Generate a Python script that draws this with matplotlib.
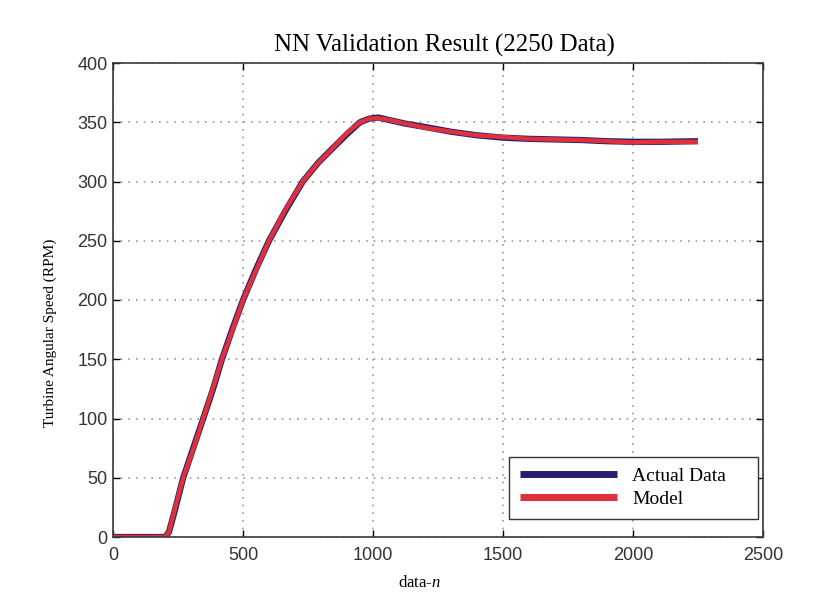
import numpy as np
import matplotlib
matplotlib.use('Agg')
from matplotlib import pyplot as plt

# values
n_points = [0, 100, 200, 215, 235, 270, 310, 347, 385, 419, 460, 500, 550, 600, 665, 730,
            790, 840, 900, 950, 985, 1020, 1060, 1120, 1200, 1300, 1400, 1500, 1600, 1700,
            1800, 1900, 2000, 2100, 2250]
actual_rpm = [0, 0, 0, 4, 20, 50, 76, 100, 125, 150, 176, 200, 226, 250, 276, 300,
              316, 327, 340, 350, 353, 354, 352, 349, 346, 342, 339, 337, 336, 335.5,
              335, 334, 333.5, 333.5, 334]
model_rpm = [0, 0, 0, 4, 21, 50, 75, 100, 126, 150, 175, 200, 225, 250, 277, 300,
             316, 327, 341, 350, 353, 353.5, 352, 349, 345.5, 342, 339, 337.5, 336, 335.5,
             335, 334, 333, 333.5, 333.5]

plt.rcParams['mathtext.fontset'] = 'custom'
plt.rcParams['mathtext.rm'] = 'Liberation Serif'
plt.rcParams['mathtext.it'] = 'Liberation Serif:italic'

fig = plt.figure(figsize=(8.14, 6.14), dpi=100)
ax = fig.add_axes([113 / 814, 1 - 537 / 614, 650 / 814, 474 / 614])

ax.plot(n_points, actual_rpm, color='#25206e', lw=4.5, label='Actual Data', solid_capstyle='butt')
ax.plot(n_points, model_rpm, color='#e0303c', lw=3.2, label='Model', solid_capstyle='butt')

ax.set_xlim(0, 2500)
ax.set_ylim(0, 400)
ax.set_xticks(np.arange(0, 2501, 500))
ax.set_yticks(np.arange(0, 401, 50))
ax.grid(True, color='#999999', linestyle=(0, (1, 3.6)), linewidth=1.2)
ax.tick_params(direction='in', top=True, right=True, length=5, width=1,
               labelsize=13, labelcolor='#333333')
ax.tick_params(axis='x', pad=7)
ax.tick_params(axis='y', pad=4)
for lab in ax.get_xticklabels() + ax.get_yticklabels():
    lab.set_family('Liberation Sans')
for sp in ax.spines.values():
    sp.set_color('#3a3a3a')
    sp.set_linewidth(1.2)

ax.set_title('NN Validation Result (2250 Data)', family='Liberation Serif', fontsize=18, pad=8,
             x=0.51)
ax.set_ylabel('Turbine Angular Speed (RPM)', family='Liberation Serif', fontsize=11)
ax.yaxis.set_label_coords(-0.086, 0.43)
ax.set_xlabel(r'data-$\mathit{n}$', family='Liberation Serif', fontsize=12)
ax.xaxis.set_label_coords(0.472, -0.08)

leg = ax.legend(loc='lower left', bbox_to_anchor=(0.609, 0.038, 0.383, 0.139), mode='expand',
                prop={'family': 'Liberation Serif', 'size': 14},
                handlelength=5.0, borderpad=0.55, labelspacing=0.3, handletextpad=0.8,
                fancybox=False, framealpha=1, borderaxespad=0)
leg.get_frame().set_edgecolor('#333333')
leg.get_frame().set_linewidth(1.0)
for line in leg.get_lines():
    line.set_linewidth(5)

fig.savefig('out.png', dpi=100)
